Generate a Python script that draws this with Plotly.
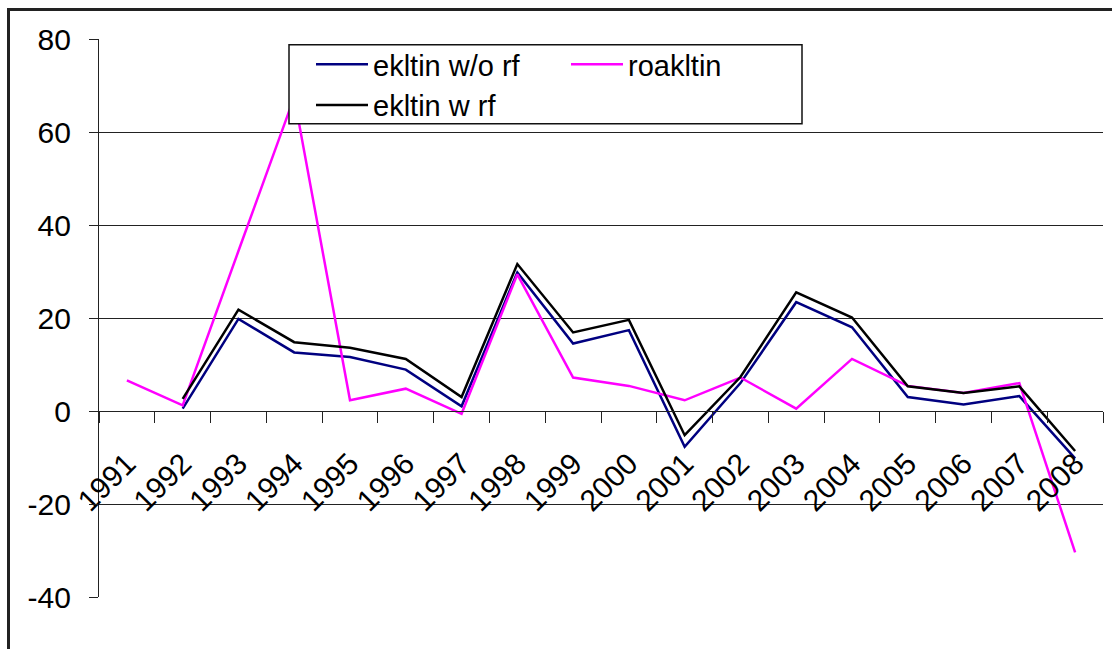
import plotly.graph_objects as go

# Series by year
years = [str(y) for y in range(1991, 2009)]
ekltin_wo_rf = [None, 0.5, 19.8, 12.6, 11.6, 8.9, 1.0, 29.8, 14.5, 17.4, -7.7,
                6.0, 23.4, 18.0, 3.0, 1.4, 3.2, -10.2]
roakltin = [6.6, 1.2, 34.4, 67.5, 2.3, 4.8, -0.6, 29.4, 7.2, 5.4, 2.3,
            7.2, 0.5, 11.2, 5.4, 3.9, 6.0, -30.4]
ekltin_w_rf = [None, 2.6, 21.8, 14.8, 13.6, 11.2, 3.0, 31.6, 16.9, 19.6, -5.2,
               7.3, 25.5, 20.1, 5.3, 3.9, 5.3, -8.6]
y_ticks = [-40, -20, 0, 20, 40, 60, 80]

FONT = "Liberation Sans, Arial, sans-serif"
W, H = 1112, 649
ML, MR, MT, MB = 99, 9, 39, 52
PW, PH = W - ML - MR, H - MT - MB


def px_x(p):
    return (p - ML) / PW


def px_y(p):
    return (H - MB - p) / PH


fig = go.Figure()
fig.add_trace(go.Scatter(x=years, y=ekltin_wo_rf, name="ekltin w/o rf", mode="lines",
                         line=dict(color="#000080", width=2.5), legendgroup="a"))
fig.add_trace(go.Scatter(x=years, y=roakltin, name="roakltin", mode="lines",
                         line=dict(color="#FF00FF", width=2.5), legendgroup="b"))
fig.add_trace(go.Scatter(x=years, y=ekltin_w_rf, name="ekltin w rf", mode="lines",
                         line=dict(color="#000000", width=2.5), legendgroup="a"))

ymin, ymax = -40, 80
zero_pos = (0 - ymin) / (ymax - ymin)

fig.update_layout(
    width=W, height=H,
    margin=dict(l=ML, r=MR, t=MT, b=MB, pad=0),
    paper_bgcolor="white", plot_bgcolor="white",
    font=dict(family=FONT, size=30, color="#000"),
    xaxis=dict(
        type="category", range=[-0.5, len(years) - 0.5],
        anchor="free", position=zero_pos,
        showline=True, linecolor="#222", linewidth=1.2,
        ticks="outside", ticklen=11, tickcolor="#222", tickwidth=1.2,
        tickson="boundaries", showgrid=False, zeroline=False,
        tickangle=-45, ticklabelstandoff=22,
        tickfont=dict(family=FONT, size=30, color="#000"),
    ),
    yaxis=dict(
        range=[ymin, ymax], tickvals=y_ticks, ticktext=[str(v) for v in y_ticks],
        showline=True, linecolor="#222", linewidth=1.2,
        ticks="outside", ticklen=9, tickcolor="#222", tickwidth=1.2,
        showgrid=True, gridcolor="#222", gridwidth=1.2, zeroline=False,
        ticklabelstandoff=12,
        tickfont=dict(family=FONT, size=30, color="#000"),
    ),
    showlegend=True,
    legend=dict(
        orientation="h", traceorder="grouped",
        x=px_x(311), y=1.0, xanchor="left", yanchor="top",
        bgcolor="rgba(0,0,0,0)", borderwidth=0,
        itemwidth=52, entrywidth=188, tracegroupgap=0,
        font=dict(family=FONT, size=29, color="#000"),
    ),
    shapes=[
        # legend frame
        dict(type="rect", xref="paper", yref="paper", layer="above",
             x0=px_x(289), x1=px_x(802), y0=px_y(123.7), y1=px_y(44.7),
             line=dict(color="#111", width=1.5), fillcolor="white"),
        # outer chart frame
        dict(type="rect", xref="paper", yref="paper", layer="above",
             x0=px_x(8.5), x1=px_x(1130), y0=px_y(680), y1=px_y(9.5),
             line=dict(color="#222", width=3), fillcolor="rgba(0,0,0,0)"),
    ],
)

fig.write_html("out.html")
